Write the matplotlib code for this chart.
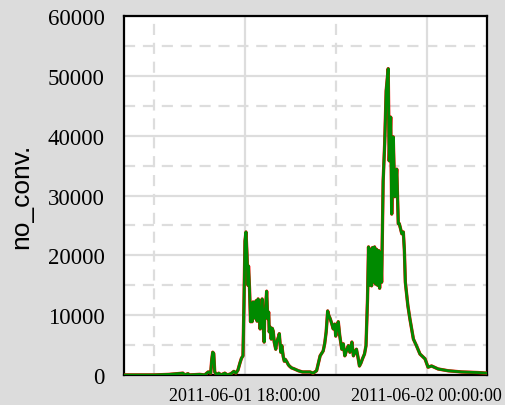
import numpy as np
import pandas as pd
import matplotlib
matplotlib.use('Agg')
import matplotlib.pyplot as plt
import matplotlib.dates as mdates
from matplotlib.ticker import MultipleLocator

# minutes after 2011-06-01 14:00 and the number of conversations
minutes = [0, 60, 90, 117, 120, 127, 130, 150, 160, 167, 172, 174, 176, 178, 180, 184, 188, 192,
           200, 205, 212, 218, 222, 226, 230, 233, 236, 238, 240, 242, 244, 246, 247, 249, 251,
           252, 254, 256, 258, 260, 262, 264, 265, 266, 268, 270, 272, 274, 276, 278, 279, 281,
           283, 285, 287, 288, 290, 292, 294, 296, 298, 301, 303, 305, 307, 308, 311, 313, 316,
           318, 320, 323, 326, 328, 332, 338, 346, 354, 369, 375, 382, 385, 389, 392, 395, 398,
           401, 404, 406, 409, 412, 415, 418, 420, 423, 425, 428, 432, 435, 438, 441, 445, 448,
           452, 455, 458, 461, 464, 467, 470, 473, 477, 480, 483, 485, 487, 489, 491, 493, 495,
           497, 499, 501, 503, 505, 507, 509, 511, 514, 517, 520, 524, 526, 529, 531, 534, 537,
           541, 544, 546, 551, 554, 556, 558, 563, 567, 574, 580, 587, 597, 603, 610, 623, 643,
           670, 702, 720]
no_conv = [0, 0, 100, 300, 0, 200, 0, 100, 0, 500, 300, 2500, 3800, 3600, 500, 0, 300, 0,
           300, 0, 200, 600, 300, 800, 2000, 2800, 3200, 12000, 22400, 23900, 20000, 15000, 18200, 14400, 8900,
           12000, 8900, 12200, 11500, 9500, 12400, 9000, 10500, 12700, 9900, 7700, 11000, 12700, 8500, 5500, 9800, 11500,
           14000, 9400, 10500, 7200, 8000, 6000, 7800, 7300, 5500, 4300, 5500, 6000, 6500, 6900, 3800, 4900, 3000,
           2300, 2600, 2200, 1700, 1500, 1200, 1000, 700, 500, 500, 300, 700, 1800, 3200, 3600, 4000, 5200,
           7200, 10700, 10000, 9400, 8600, 7700, 8500, 6500, 8300, 8900, 6500, 4300, 5200, 3200, 4000, 4900, 3800,
           5500, 3200, 3800, 4300, 3000, 1500, 2000, 2700, 3500, 4900, 12700, 21400, 15000, 21000, 14900, 21300, 15500,
           21400, 15200, 21000, 15000, 20800, 14500, 20500, 15500, 32400, 38600, 47500, 51200, 35800, 43100, 26900, 39800, 29800,
           34400, 25300, 25300, 23600, 23900, 21000, 15500, 11600, 9400, 6000, 4900, 3500, 2700, 1300, 1500, 1000, 700,
           500, 400, 300]

start = pd.Timestamp('2011-06-01 14:00:00')
times = start + pd.to_timedelta(minutes, unit='m')

fig = plt.figure(figsize=(5.06, 4.06), dpi=100, facecolor='#dcdcdc')
ax = fig.add_axes([0.245, 0.074, 0.7175, 0.884])

ax.plot(times, no_conv, color='red', lw=2.4, zorder=3)
ax.plot(times, no_conv, color='#008a00', lw=2.0, zorder=4)

ax.set_xlim(start, start + pd.Timedelta(hours=12))
ax.set_ylim(0, 60000)

ax.xaxis.set_major_locator(mdates.HourLocator(byhour=[0, 18]))
ax.xaxis.set_minor_locator(mdates.HourLocator(byhour=[3, 9, 15, 21]))
ax.xaxis.set_major_formatter(mdates.DateFormatter('%Y-%m-%d %H:%M:%S'))
ax.yaxis.set_major_locator(MultipleLocator(10000))
ax.yaxis.set_minor_locator(MultipleLocator(5000))

ax.grid(which='major', color='#dddddd', lw=1.6, ls='-')
ax.grid(which='minor', color='#dddddd', lw=1.6, ls=(0, (5, 3.5)))
ax.set_axisbelow(True)

ax.tick_params(which='both', length=0)
ax.tick_params(axis='y', pad=14)
ax.tick_params(axis='x', pad=9)
for lab in ax.get_xticklabels():
    lab.set_family('Liberation Serif')
    lab.set_fontsize(13)
for lab in ax.get_yticklabels():
    lab.set_family('Liberation Serif')
    lab.set_fontsize(16.5)

for s in ax.spines.values():
    s.set_linewidth(1.6)
    s.set_color('black')

ax.set_ylabel('no_conv.', family='Liberation Sans', fontsize=19, labelpad=10)

fig.savefig('out.png', facecolor=fig.get_facecolor())
